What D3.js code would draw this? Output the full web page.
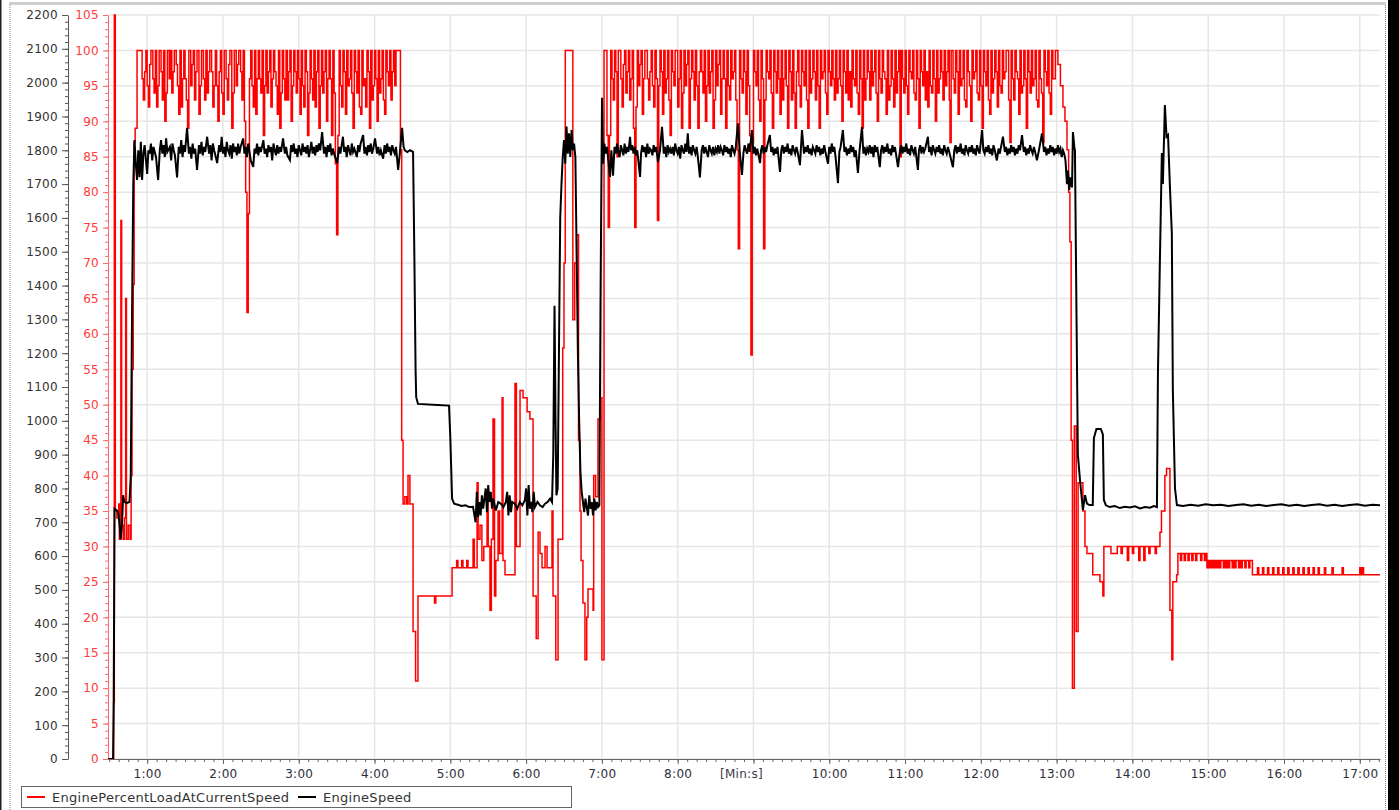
<!DOCTYPE html>
<html>
<head>
<meta charset="utf-8">
<script src="https://cdn.jsdelivr.net/npm/d3@7"></script>
<style>
  body { margin: 0; background: #fff; }
  svg { display: block; }
  text { font-family: "DejaVu Sans", Verdana, sans-serif; }
</style>
</head>
<body>
<svg id="chart"></svg>
<script>
// time in seconds, value in % (load) or rpm (speed)
const loadStart = [[29,0],[33,0],[33.5,8],[34,105],[34.8,35],[36,34],[37.5,36],[38,31],[39.2,76],[39.8,33],[41,31],[42,34],[43,65],[43.6,31],[45,33],[46.5,31],[47.3,40],[48,55],[49,67],[49.7,87],[50.5,89],[52,100]]

const loadHigh1 = [[53,100],[55,100],[56,96],[57,93],[58,97],[59,100],[60,95],[61,92],[62,98],[63,100],[64.5,96],[65.5,94],[66.5,100],[67.5,92],[68.5,95],[69.5,100],[71,97],[72,93],[73,100],[74,90],[75,94],[76,100],[77.5,96],[78.5,100],[79.5,94],[80.5,97],[81.5,100],[83,98],[84,95],[85,91],[86,100],[87,92],[88,96],[89,100],[90,96],[91,93],[92,89],[93,100],[94.5,95],[95.5,98],[96.5,100],[97.5,93],[98.5,97],[99.5,100],[101,91],[102,95],[103,100],[104.5,96],[105.5,93],[106.5,100],[107.5,94],[108.5,97],[109.5,100],[111,97],[112,92],[113,95],[114,100],[115,95],[116,90],[117,97],[118,100],[119,94],[120,91],[121,100],[122.5,96],[123.5,93],[124.5,98],[125.5,100],[127,89],[128,94],[129,100],[130.5,95],[131.5,98],[132.5,100],[134,97],[135,93],[136,100],[137,90],[138,80],[139,63],[140,77],[141,96],[142,100],[143,95],[144,92],[145,100],[146,91],[147,96],[148,100],[149,96],[150,94],[151,100],[152,88],[153,95],[154,100],[155,94],[156,97],[157,100],[158,92],[159,96],[160,100],[161,97],[162,95],[163,91],[164,100],[165,89],[166,94],[167,100],[168,96],[169,93],[170,100],[171,93],[172,97],[173,100],[174,90],[175,95],[176,100],[177,97],[178,94],[179,100],[180,96],[181,91],[182,100],[183,95],[184,92],[185,100],[186,97],[187,88],[188,94],[189,100],[190,96],[191,93],[192,100],[193,92],[194,97],[195,100],[196,89],[197,95],[198,100],[199,94],[200,97],[201,100],[202,90],[203,96],[204,100],[205,96],[206,88],[207,100],[208,94],[209,84],[210,74],[211,88],[212,100],[213,95],[214,92],[215,100],[216,97],[217,91],[218,100],[219,95],[220,96],[221,100],[222,94],[223,89],[224,100],[225,97],[226,94],[227,100],[228,92],[229,91],[230,100],[231,95],[232,96],[233,92],[234,100],[235,97],[236,89],[237,100],[238,93],[239,95],[240,100],[241,96],[242,90],[243,100],[244,94],[245,96],[246,100],[247,93],[248,91],[249,100],[250,97],[251,95],[252,100],[253,93],[254,97],[255,100],[256,95],[257,100],[260,100]]

const loadIdle = [[260.5,86],[261.5,45],[262.6,36],[264,37],[265.5,36],[266.5,40],[268,36],[270.5,18],[272.5,11],[274.4,23],[287.5,22],[288.5,23],[301.4,27],[305,28],[306,27],[309,28],[310,27],[313,28],[314,27],[318,31],[319,27],[321.2,39],[322,31],[323.5,33],[325,28],[326.5,30],[329.1,38],[330,30],[331.4,21],[332.5,31],[333.8,48],[335,23],[336,28],[337.8,35],[339,29],[341,51],[341.7,28],[343.3,26],[349.7,26],[351.2,53],[352.3,30],[355.2,52],[357.6,51],[360.8,49],[363,48],[365.5,23],[368,17],[369.5,32],[371,29],[372.6,27],[375,30],[376.6,27],[379,27],[380.5,35],[381.3,23],[383.5,14],[385.3,31],[388.4,31],[389,58],[390,70],[391,100],[396.5,100],[397,62],[398.5,70],[400,74],[401.5,45],[402.7,35],[403.5,28],[405,22],[406.6,14],[408,20],[409,24],[413,21],[413.5,40],[415,37],[416.9,48],[418.5,51],[420,14],[421.7,100]]

const loadHigh2 = [[422,100],[423,100],[424,88],[425,75],[426,88],[427,100],[428,96],[429,93],[430,100],[431,97],[432,85],[433,100],[434,100],[435,96],[436,92],[437,98],[438,100],[439,94],[440,97],[441,100],[442,93],[443,96],[444,100],[445,89],[446,75],[447,92],[448,100],[449,95],[450,98],[451,100],[452,91],[453,96],[454,100],[455,100],[456,96],[457,93],[458,97],[459,100],[460,95],[461,92],[462,100],[463,96],[464,76],[465,95],[466,100],[467,97],[468,91],[469,100],[470,94],[471,96],[472,100],[473,93],[474,88],[475,100],[476,97],[477,95],[478,100],[479,100],[480,92],[481,96],[482,100],[483,89],[484,94],[485,100],[486,95],[487,98],[488,100],[489,89],[490,96],[491,100],[492,97],[493,93],[494,100],[495,95],[496,89],[497,97],[498,100],[499,97],[500,94],[501,100],[502,90],[503,95],[504,100],[505,94],[506,97],[507,100],[508,89],[509,93],[510,100],[511,95],[512,98],[513,100],[514,91],[515,96],[516,100],[517,96],[518,89],[519,100],[520,95],[521,93],[522,100],[523,96],[524,97],[525,100],[526,93],[527,86],[528,72],[529,100],[530,96],[531,94],[532,100],[533,97],[534,91],[535,100],[536,95],[537,88],[538,57],[539,87],[540,100],[541,97],[542,95],[543,100],[544,93],[545,90],[546,100],[547,96],[548,72],[549,93],[550,100],[551,97],[552,96],[553,100],[554,94],[555,89],[556,100],[557,97],[558,94],[559,100],[560,96],[561,91],[562,100],[563,93],[564,96],[565,100],[566,95],[567,89],[568,100],[569,97],[570,93],[571,100],[572,94],[573,89],[574,97],[575,100],[576,95],[577,92],[578,100],[579,97],[580,95],[581,100],[582,93],[583,89],[584,100],[585,94],[586,96],[587,100],[588,97],[589,93],[590,100],[591,95],[592,89],[593,100],[594,96],[595,97],[596,100],[597,94],[598,91],[599,100],[600,97],[601,95],[602,100],[603,96],[604,93],[605,100],[606,94],[607,96],[608,100],[609,95],[610,90],[611,100],[612,97],[613,94],[614,100],[615,93],[616,97],[617,92],[618,100],[619,96],[620,95],[621,100],[622,94],[623,91],[624,100],[625,96],[626,89],[627,100],[628,93],[629,96],[630,100],[631,97],[632,93],[633,100],[634,95],[635,97],[636,100],[637,94],[638,90],[639,100],[640,96],[641,94],[642,100],[643,97],[644,96],[645,91],[646,100],[647,93],[648,95],[649,100],[650,96],[651,92],[652,100],[653,94],[654,97],[655,100],[656,85],[657,100],[658,96],[659,94],[660,100],[661,95],[662,91],[663,100],[664,97],[665,96],[666,100],[667,94],[668,93],[669,100],[670,96],[671,89],[672,100],[673,97],[674,95],[675,100],[676,93],[677,97],[678,92],[679,100],[680,95],[681,94],[682,100],[683,96],[684,90],[685,100],[686,94],[687,96],[688,100],[689,97],[690,93],[691,100],[692,95],[693,97],[694,100],[695,93],[695.6,87],[696.5,100],[698,96],[699,94],[700,100],[701,97],[702,91],[703,100],[704,95],[705,96],[706,100],[707,93],[708,92],[709,100],[710,97],[711,95],[712,90],[713,100],[714,96],[715,97],[716,100],[717,94],[718,93],[719,100],[720,95],[721,89],[722,100],[723,97],[724,95],[725,100],[726,93],[727,91],[728,100],[729,94],[730,96],[731,100],[732,97],[733,92],[734,100],[735,95],[736,94],[737,100],[738,96],[739,97],[740,100],[742,93],[743,87],[744,100],[745,96],[746,93],[747,100],[748,97],[749,96],[750,91],[751,100],[752,94],[753,95],[754,100],[755,96],[756,89],[757,100],[758,97],[759,94],[760,100],[761,95],[762,96],[763,100],[764,93],[765,92],[766,100],[767,96],[768,94],[769,87],[770,100],[771,97],[772,95],[773,100],[774,94],[775,91],[776,100],[777,96],[778,96],[779,100],[781,98],[783,95],[785,92],[786.6,90],[788.2,86],[789.5,80]]

const loadTail = [[790.5,73],[791.5,45],[792.5,10],[794,47],[795.5,18],[797,39],[800.8,35],[802.4,30],[804,29],[808.6,26],[814.3,25],[816.6,23],[817.4,30],[822,30],[823,29],[828,30],[831,29],[832,30],[836,28],[837,30],[840,29],[841,30],[845,28],[846,30],[849,28],[850,30],[853,29],[854,30],[858,29],[859,30],[861.8,32],[863,35],[865.7,40],[867,41],[869.7,21],[871.2,14],[872,25],[875,26],[876,29],[878,28],[879,29],[881,28],[882,29],[884,28],[885,29],[887,28],[888,29],[890,28],[891,29],[894,28],[895,29],[897,28],[898,29],[899,27],[900,28],[901,27],[902,28],[903,27],[904,28],[905,27],[906,28],[907,27],[908,28],[909,27],[910,28],[912,27],[913,28],[914,27],[915,28],[916,27],[917,28],[919,27],[920,28],[921,27],[922,28],[924,27],[925,28],[926,27],[927,28],[929,27],[930,28],[932,27],[933,28],[935,26],[939,27],[940,26],[943,27],[944,26],[947,27],[948,26],[951,27],[952,26],[955,27],[956,26],[959,27],[960,26],[963,27],[964,26],[967,27],[968,26],[971,27],[972,26],[975,27],[976,26],[979,27],[980,26],[983,27],[984,26],[987,27],[988,26],[992,27],[993,26],[998,27],[999,26],[1006,27],[1007,26],[1020,27],[1021,26],[1022,27],[1023,26],[1036,26]]

const speedStart = [[29,0],[33,0],[33.5,170],[34.2,740],[36,735],[37,730],[38,700],[39,650],[40,690],[41,780],[42,760],[44,757],[46,760],[47,834],[48,1300],[49,1700],[50,1830],[51,1760],[52,1712],[53,1800]]

const speedHigh1 = [[54,1720],[55,1825],[56,1712],[57,1790],[58,1815],[60,1730],[61,1800],[62,1790],[63,1820],[64,1770],[65,1810],[66,1795],[67,1780],[68.7,1712],[70,1800],[71,1830],[72,1790],[73,1815],[74,1780],[75,1835],[76,1795],[78,1810],[79,1770],[80,1820],[81,1800],[82,1785],[83.7,1720],[85,1810],[86,1790],[87,1830],[88,1780],[89,1815],[90,1795],[91.6,1866],[93,1790],[94,1810],[95,1775],[96,1820],[97,1790],[98,1805],[99.5,1742],[101,1815],[102,1790],[103,1825],[104,1785],[105,1810],[106,1795],[107.5,1840],[109,1790],[110,1815],[111,1770],[112,1820],[113,1800],[114,1785],[115.4,1762],[117,1815],[118,1795],[119,1840],[120,1790],[121,1810],[122,1780],[123,1825],[124,1800],[125,1790],[126,1815],[127,1775],[128,1820],[129,1795],[130,1810],[131,1785],[132,1820],[133,1790],[134,1810],[136,1835],[137,1790],[138,1810],[139,1780],[140,1820],[141,1795],[142,1770],[144,1751],[145,1805],[146,1790],[147,1820],[148,1785],[149,1810],[150,1795],[152,1830],[153,1790],[154,1805],[155,1780],[156,1815],[157,1795],[158,1810],[159,1770],[160,1820],[161,1800],[162,1785],[163,1815],[164,1790],[165,1810],[166,1795],[167.6,1835],[169,1790],[170,1810],[171,1785],[173,1771],[174,1815],[175,1795],[176,1820],[177,1790],[178,1805],[179,1780],[180,1815],[181,1800],[182,1785],[183,1820],[184,1795],[185,1810],[186,1790],[187,1815],[188,1780],[189,1800],[190,1825],[191,1790],[192,1810],[193,1785],[194,1815],[195,1795],[196,1820],[197,1800],[198.5,1854],[200,1790],[201,1810],[202,1780],[203,1815],[204,1795],[205,1820],[206,1785],[207,1805],[208,1790],[210.4,1762],[212,1810],[213,1790],[215,1840],[216,1795],[217,1810],[218,1780],[219,1815],[220,1800],[221,1785],[222,1820],[223,1795],[224,1805],[226,1780],[227,1815],[228,1795],[229,1820],[231,1845],[232,1790],[233,1810],[234,1785],[235,1815],[236,1795],[237,1820],[238,1790],[239,1805],[240.4,1835],[242,1790],[243,1810],[244,1785],[245,1800],[246.8,1775],[248,1815],[249,1790],[250,1820],[251,1795],[252,1810],[253,1785],[254,1815],[255,1800],[256,1790],[257,1810],[258.7,1742],[260,1790],[261.8,1866],[263,1810],[264,1800],[266,1795],[268,1800],[270.5,1795]]

const speedIdle = [[271.5,1500],[272.5,1150],[273,1070],[274.4,1050],[290,1047],[299,1045],[300,950],[301.4,770],[303,755],[306,752],[309,748],[312,750],[315,745],[318,746],[320,700],[321,790],[322,715],[323,760],[324,720],[325,780],[326,740],[327,770],[328,800],[329,730],[330,810],[331,760],[332,790],[333,740],[334,770],[336,735],[338,760],[340,755],[342,745],[344,760],[345,790],[346,720],[347,780],[348,730],[349,760],[351,755],[353,740],[355,760],[357,750],[359,765],[360,800],[361,720],[362,810],[363,740],[364,760],[365,730],[366,790],[367,745],[369,760],[371,750],[373,745],[375,755],[377,760],[379,770],[380.5,760],[381.5,900],[382.5,1340],[383.3,1000],[384,780],[385,800],[386,1200],[387,1600],[388,1700],[389,1780],[390,1830],[391,1760],[392,1870],[393,1790],[394,1850],[395,1780],[396,1860],[397,1800],[398,1820],[399,1780],[400,1500],[401,1200],[402,1000],[403,850],[404,790],[405,760],[406,730],[407,770],[408,745],[409,720],[410,780],[411,740],[412,760],[413,720],[414,770],[415,735],[416,760],[417,745],[418,750],[419,1400],[420.1,1955]]

const speedHigh2 = [[421,1760],[422,1820],[423,1790],[424,1810],[426.4,1721],[427.5,1800],[428.8,1725],[430,1810],[431,1790],[432,1820],[433,1795],[434,1780],[435,1815],[436,1800],[437,1785],[438,1820],[439,1790],[440,1810],[441,1795],[442.3,1840],[443,1800],[444,1815],[445,1790],[446,1810],[447,1785],[448,1800],[450.2,1721],[451,1790],[452,1815],[453,1795],[454,1810],[455,1780],[456,1820],[457,1790],[458,1805],[459,1800],[460,1785],[461,1815],[462,1795],[463,1810],[464.4,1765],[466,1800],[467.6,1869],[469,1790],[470,1810],[471,1780],[472,1815],[473,1795],[474,1805],[475,1790],[476,1810],[477,1785],[478,1820],[479,1800],[480,1790],[481,1810],[482,1775],[483,1815],[484,1800],[485,1790],[486,1820],[487,1795],[488,1850],[489,1790],[490,1810],[491,1785],[492,1815],[493,1800],[494,1790],[495,1810],[496,1780],[497.6,1720],[499,1800],[500,1815],[501,1790],[502,1810],[503,1795],[504,1780],[505,1815],[506,1800],[507,1790],[508,1810],[509,1785],[510,1805],[511,1795],[512,1815],[513,1790],[514,1810],[515,1800],[516,1785],[517,1815],[518,1795],[519,1810],[520,1790],[521,1805],[522,1780],[523,1815],[524,1800],[525,1790],[526,1810],[527.7,1880],[529,1800],[530.9,1727],[532,1790],[533,1815],[534,1800],[535,1790],[536,1820],[537,1795],[538.8,1860],[540,1790],[541,1810],[542,1785],[543,1805],[545.2,1762],[546,1800],[547,1815],[548,1790],[549,1810],[550,1795],[551,1815],[553,1845],[554,1795],[555,1810],[556,1785],[557,1805],[558,1790],[559,1810],[561,1736],[562,1800],[563,1815],[564,1790],[565,1810],[566,1795],[567,1820],[568,1790],[569,1805],[570,1785],[571,1815],[572,1800],[573,1790],[574,1810],[575,1795],[576.8,1756],[578.4,1860],[580,1790],[581,1810],[582,1795],[583,1815],[584,1790],[585,1805],[586,1785],[587,1810],[588,1800],[589,1790],[590,1815],[591,1795],[592,1810],[593,1785],[594,1805],[595,1790],[596,1815],[597,1795],[599,1760],[600,1810],[601,1790],[602,1820],[603,1795],[604,1810],[605,1780],[606.9,1703],[608,1795],[609,1810],[610.8,1860],[612,1795],[613,1810],[614,1785],[615,1805],[616,1790],[617,1815],[618,1795],[619,1810],[620,1780],[621,1800],[622.7,1733],[624,1800],[625.9,1869],[627,1790],[628,1810],[629,1785],[630,1805],[631,1795],[632,1815],[633,1790],[634,1810],[635,1780],[636,1815],[637,1795],[638,1810],[640,1750],[641,1800],[642,1815],[643,1790],[644,1810],[645,1795],[646,1820],[647,1790],[648,1805],[649,1785],[650,1815],[651,1795],[652,1810],[654.4,1750],[656,1800],[657,1815],[658,1790],[659,1810],[660,1795],[661,1820],[662,1790],[663,1805],[664,1785],[665,1815],[666,1800],[667,1790],[668,1810],[670.2,1742],[671,1800],[672,1815],[673,1790],[674,1810],[675,1795],[676,1805],[678.1,1840],[679,1795],[680,1810],[681,1785],[682,1815],[683,1800],[684,1790],[685,1810],[686,1795],[687,1815],[688,1790],[689,1805],[690,1785],[691,1815],[692,1800],[693,1790],[694,1810],[695,1795],[697.9,1750],[699,1800],[700,1815],[701,1790],[702,1810],[703,1795],[704,1820],[705,1790],[706,1805],[707,1785],[708,1815],[709,1800],[710,1790],[711,1810],[712,1795],[713,1815],[714,1790],[715,1805],[716,1785],[717,1815],[718,1800],[719,1790],[721,1860],[722,1800],[723,1790],[724,1810],[725,1795],[726,1815],[727,1790],[728,1805],[729,1785],[730,1815],[731,1800],[732.7,1770],[734,1805],[735,1790],[736,1810],[737.5,1840],[739,1795],[740,1810],[741,1785],[742,1805],[743,1790],[744,1815],[745,1795],[746,1810],[747,1785],[748,1805],[749,1790],[750,1815],[751,1800],[752.6,1845],[754,1795],[755,1810],[756,1785],[757,1805],[758,1790],[759,1815],[760,1800],[761,1790],[762,1810],[763,1795],[764.4,1770],[766,1800],[768.4,1850],[770,1795],[771,1810],[772,1785],[773,1805],[774,1790],[775,1815],[776,1795],[777,1810],[778,1785],[779,1805],[780,1790],[781,1815],[782,1795],[783,1805],[784,1780],[785,1800],[786,1790],[787,1770],[788.2,1700],[789,1740],[790,1683],[791,1720],[792.2,1690],[792.9,1854],[794,1810],[794.5,1800]]

const speedTail = [[795.5,1400],[796.8,900],[798.5,825],[800.8,736],[802.5,780],[804,755],[806,751],[808.6,751],[809.5,949],[811.5,976],[815,976],[816.6,960],[817.4,766],[819,750],[822,745],[826,748],[830,742],[834,746],[838,744],[842,747],[846,741],[850,745],[854,743],[857,748],[859.4,745],[860.2,1141],[861.8,1484],[863.3,1792],[864.1,1700],[865.7,1934],[867,1840],[868.2,1845],[869.7,1691],[871.2,1555],[872,1091],[873.7,800],[875.2,751],[880,748],[886,752],[892,749],[898,753],[904,750],[910,752],[916,748],[922,751],[928,753],[934,749],[940,752],[946,748],[952,751],[958,753],[964,749],[970,752],[976,748],[982,751],[988,753],[994,749],[1000,752],[1006,748],[1012,751],[1018,753],[1024,749],[1030,752],[1036,750]]

const loadTicks = d3.range(0, 106, 5)
const speedTicks = d3.range(0, 2201, 100)
const minuteTicks = d3.range(60, 1021, 60)
const seriesNames = ["EnginePercentLoadAtCurrentSpeed", "EngineSpeed"]

const engineLoad = [].concat(loadStart, loadHigh1, loadIdle, loadHigh2, loadTail)
const engineSpeed = [].concat(speedStart, speedHigh1, speedIdle, speedHigh2, speedTail)

// dimensions
const width = 1399
const height = 810
const plot = {left: 108, right: 1380, top: 15, bottom: 759}
const redText = "#ff3a3a"
const redLine = "#ff6a6a"

const svg = d3.select("#chart")
  .attr("width", width)
  .attr("height", height)

// scales
const xScale = d3.scaleLinear().domain([29, 1036]).range([plot.left, plot.right])
const loadScale = d3.scaleLinear().domain([0, 105]).range([plot.bottom, plot.top])
const speedScale = d3.scaleLinear().domain([0, 2200]).range([plot.bottom, plot.top])

const fmtTime = s => `${Math.floor(s / 60)}:${String(Math.round(s % 60)).padStart(2, "0")}`

// frame
svg.append("rect").attr("x", 0).attr("y", 0).attr("width", 1.5).attr("height", height).attr("fill", "#222")
svg.append("rect").attr("x", 1388).attr("y", 0).attr("width", 11).attr("height", height).attr("fill", "#000")
svg.append("rect").attr("x", 9).attr("y", 2).attr("width", 1377).attr("height", 3).attr("fill", "#cfcfcf")
svg.append("line").attr("x1", 10).attr("x2", 10).attr("y1", 5).attr("y2", height)
  .attr("stroke", "#888").attr("stroke-dasharray", "1,1")
svg.append("line").attr("x1", 1385.5).attr("x2", 1385.5).attr("y1", 5).attr("y2", height)
  .attr("stroke", "#888").attr("stroke-dasharray", "1,1")

// grid
const grid = svg.append("g").attr("stroke", "#e6e6e6").attr("stroke-width", 1.5)
grid.selectAll("line.h").data(loadTicks).join("line").attr("class", "h")
  .attr("x1", plot.left).attr("x2", plot.right)
  .attr("y1", d => loadScale(d)).attr("y2", d => loadScale(d))
grid.selectAll("line.v").data(minuteTicks).join("line").attr("class", "v")
  .attr("x1", d => xScale(d)).attr("x2", d => xScale(d))
  .attr("y1", plot.top).attr("y2", plot.bottom)

// axes
const styleAxis = (g, color, textColor) => {
  g.selectAll("path.domain").attr("stroke", color)
  g.selectAll(".tick line").attr("stroke", color)
  g.selectAll(".tick text").attr("fill", textColor).style("font-size", "12px").style("letter-spacing", "0.3px")
  g.attr("font-family", null)
}

svg.append("g")
  .attr("transform", `translate(68,0)`)
  .call(d3.axisLeft(speedScale).tickValues(d3.range(0, 2201, 20)).tickSize(3).tickFormat(""))
  .call(g => g.select("path.domain").remove())
  .call(g => styleAxis(g, "#555", "#333"))
svg.append("g")
  .attr("transform", `translate(68,0)`)
  .call(d3.axisLeft(speedScale).tickValues(speedTicks).tickSize(6).tickSizeOuter(0).tickPadding(4)
    .tickFormat(d3.format("d")))
  .call(g => styleAxis(g, "#555", "#333"))

svg.append("g")
  .attr("transform", `translate(${plot.left},0)`)
  .call(d3.axisLeft(loadScale).tickValues(d3.range(0, 106, 1)).tickSize(3).tickFormat(""))
  .call(g => g.select("path.domain").remove())
  .call(g => styleAxis(g, redLine, redText))
svg.append("g")
  .attr("transform", `translate(${plot.left},0)`)
  .call(d3.axisLeft(loadScale).tickValues(loadTicks).tickSize(5).tickSizeOuter(0).tickPadding(4)
    .tickFormat(d3.format("d")))
  .call(g => styleAxis(g, redLine, redText))

svg.append("g")
  .attr("transform", `translate(0,${plot.bottom})`)
  .call(d3.axisBottom(xScale).tickValues(d3.range(30, 1036, 7.5)).tickSize(3).tickFormat(""))
  .call(g => g.select("path.domain").remove())
  .call(g => styleAxis(g, "#666", "#333"))
svg.append("g")
  .attr("transform", `translate(0,${plot.bottom})`)
  .call(d3.axisBottom(xScale).tickValues(minuteTicks).tickSize(5).tickSizeOuter(0).tickPadding(5)
    .tickFormat(d => d === 540 ? "" : fmtTime(d)))
  .call(g => styleAxis(g, "#666", "#2e2e3a"))

svg.append("text")
  .attr("x", xScale(540) - 12).attr("y", plot.bottom + 19)
  .attr("text-anchor", "middle")
  .attr("fill", "#3a3a4a")
  .style("font-size", "12px").style("letter-spacing", "0.3px")
  .text("[Min:s]")

// lines
svg.append("clipPath").attr("id", "plot-clip")
  .append("rect").attr("x", plot.left).attr("y", plot.top - 1)
  .attr("width", plot.right - plot.left).attr("height", plot.bottom - plot.top + 1)

const loadLine = d3.line()
  .x(d => xScale(d[0])).y(d => loadScale(d[1]))
  .curve(d3.curveStepAfter)
const speedLine = d3.line()
  .x(d => xScale(d[0])).y(d => speedScale(d[1]))

const lines = svg.append("g").attr("clip-path", "url(#plot-clip)")
lines.append("path").datum(engineLoad)
  .attr("d", loadLine).attr("fill", "none")
  .attr("stroke", "#ff0000").attr("stroke-width", 1.5)
lines.append("path").datum(engineSpeed)
  .attr("d", speedLine).attr("fill", "none")
  .attr("stroke", "#000").attr("stroke-width", 2)

// legend
const legend = svg.append("g")
legend.append("rect").attr("x", 21.5).attr("y", 786.5).attr("width", 550).attr("height", 21)
  .attr("fill", "#fff").attr("stroke", "#666")
const legendItems = [
  {name: seriesNames[0], color: "#ff0000", x: 27},
  {name: seriesNames[1], color: "#000", x: 298},
]
legendItems.forEach(item => {
  legend.append("line").attr("x1", item.x).attr("x2", item.x + 18)
    .attr("y1", 797).attr("y2", 797).attr("stroke", item.color).attr("stroke-width", 2)
  legend.append("text").attr("x", item.x + 25).attr("y", 801.5)
    .attr("fill", "#333").style("font-size", "13px").style("letter-spacing", "0.3px")
    .text(item.name)
})
</script>
</body>
</html>
